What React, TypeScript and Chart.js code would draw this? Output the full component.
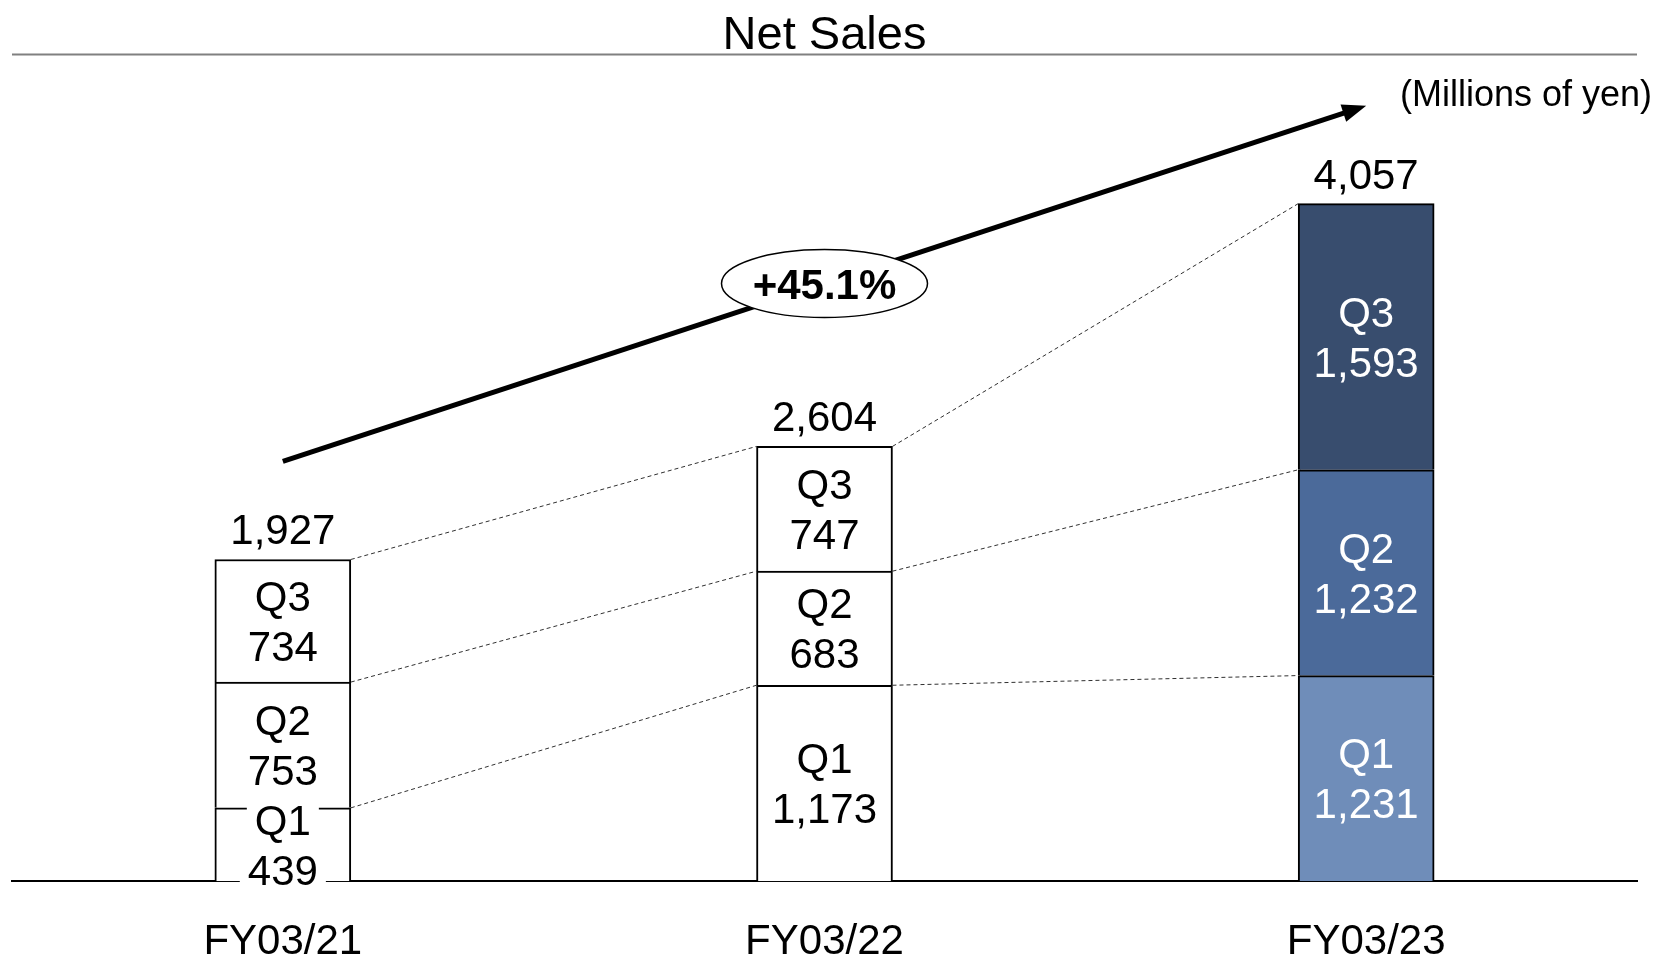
import React, { useEffect, useRef } from 'react';
import { Chart, registerables } from 'chart.js';

Chart.register(...registerables);

const categories = ['FY03/21', 'FY03/22', 'FY03/23'];
const quarterNames = ['Q1', 'Q2', 'Q3'];
const q1Values = [439, 1173, 1231];
const q2Values = [753, 683, 1232];
const q3Values = [734, 747, 1593];
const totals = [1927, 2604, 4057];
const q1Colors = ['#ffffff', '#ffffff', '#6F8DB9'];
const q2Colors = ['#ffffff', '#ffffff', '#4B6A9A'];
const q3Colors = ['#ffffff', '#ffffff', '#384D6E'];
const growthLabel = '+45.1%';
const chartTitle = 'Net Sales';
const unitLabel = '(Millions of yen)';

const FONT = '"Liberation Sans", Arial, Helvetica, sans-serif';

const overlayPlugin = {
  id: 'overlay',
  afterDatasetsDraw(chart: any) {
    const ctx: CanvasRenderingContext2D = chart.ctx;
    const area = chart.chartArea;
    const metas = [0, 1, 2].map((i) => chart.getDatasetMeta(i));
    const datasets = chart.data.datasets;
    ctx.save();

    // dashed connectors between segment tops
    ctx.setLineDash([4, 3]);
    ctx.lineWidth = 1;
    ctx.strokeStyle = '#303030';
    for (let s = 0; s < metas.length; s++) {
      const els = metas[s].data;
      for (let i = 0; i < els.length - 1; i++) {
        const a = els[i];
        const b = els[i + 1];
        ctx.beginPath();
        ctx.moveTo(a.x + a.width / 2, a.y);
        ctx.lineTo(b.x - b.width / 2, b.y);
        ctx.stroke();
      }
    }
    ctx.setLineDash([]);

    // segment labels
    ctx.font = `42px ${FONT}`;
    ctx.textAlign = 'center';
    ctx.textBaseline = 'alphabetic';
    for (let s = 0; s < metas.length; s++) {
      const els = metas[s].data;
      for (let i = 0; i < els.length; i++) {
        const el = els[i];
        const cy = (el.y + el.base) / 2;
        const fill = (datasets[s].backgroundColor as string[])[i];
        const isWhite = fill.toLowerCase() === '#ffffff';
        const lines = [quarterNames[s], (datasets[s].data[i] as number).toLocaleString('en-US')];
        const ys = [cy - 25, cy + 25];
        lines.forEach((t, k) => {
          if (isWhite) {
            const w = ctx.measureText(t).width + 16;
            ctx.fillStyle = '#ffffff';
            ctx.fillRect(el.x - w / 2, ys[k] - 21, w, 42);
          }
          ctx.fillStyle = isWhite ? '#000000' : '#ffffff';
          ctx.fillText(t, el.x, ys[k] + 15);
        });
      }
    }

    // totals above bars
    const topEls = metas[2].data;
    ctx.fillStyle = '#000000';
    topEls.forEach((el: any, i: number) => {
      ctx.fillText(totals[i].toLocaleString('en-US'), el.x, el.y - 15);
    });

    // growth arrow
    const first = topEls[0];
    const last = topEls[topEls.length - 1];
    const x0 = first.x;
    const y0 = first.y - 98;
    const x1 = last.x;
    const y1 = last.y - 98;
    const ang = Math.atan2(y1 - y0, x1 - x0);
    const headLen = 24;
    const headHalf = 9;
    const bx = x1 - headLen * Math.cos(ang);
    const by = y1 - headLen * Math.sin(ang);
    ctx.strokeStyle = '#000000';
    ctx.lineWidth = 5;
    ctx.beginPath();
    ctx.moveTo(x0, y0);
    ctx.lineTo(bx + 2 * Math.cos(ang), by + 2 * Math.sin(ang));
    ctx.stroke();
    ctx.beginPath();
    ctx.moveTo(x1, y1);
    ctx.lineTo(bx + headHalf * Math.sin(ang), by - headHalf * Math.cos(ang));
    ctx.lineTo(bx - headHalf * Math.sin(ang), by + headHalf * Math.cos(ang));
    ctx.closePath();
    ctx.fillStyle = '#000000';
    ctx.fill();

    // ellipse with growth label
    const mx = (x0 + x1) / 2;
    const my = (y0 + y1) / 2;
    ctx.beginPath();
    ctx.ellipse(mx, my, 103, 34, 0, 0, Math.PI * 2);
    ctx.fillStyle = '#ffffff';
    ctx.fill();
    ctx.lineWidth = 1.5;
    ctx.strokeStyle = '#000000';
    ctx.stroke();
    ctx.font = `bold 42px ${FONT}`;
    ctx.fillStyle = '#000000';
    ctx.fillText(growthLabel, mx, my + 15);

    // title and rule
    const cx = (area.left + area.right) / 2;
    ctx.font = `47px ${FONT}`;
    ctx.fillText(chartTitle, cx, 49);
    ctx.strokeStyle = '#808080';
    ctx.lineWidth = 2;
    ctx.beginPath();
    ctx.moveTo(area.left, 54.5);
    ctx.lineTo(area.right, 54.5);
    ctx.stroke();

    // unit
    ctx.font = `36px ${FONT}`;
    ctx.textAlign = 'right';
    ctx.fillStyle = '#000000';
    ctx.fillText(unitLabel, 1652, 106);

    ctx.restore();
  },
};

export default function App() {
  const ref = useRef<HTMLCanvasElement>(null);
  useEffect(() => {
    document.body.style.margin = '0';
    document.body.style.overflow = 'hidden';
    const canvas = ref.current!;
    const chart = new Chart(canvas, {
      type: 'bar',
      data: {
        labels: categories,
        datasets: [
          { label: 'Q1', data: q1Values, backgroundColor: q1Colors },
          { label: 'Q2', data: q2Values, backgroundColor: q2Colors },
          { label: 'Q3', data: q3Values, backgroundColor: q3Colors },
        ],
      },
      options: {
        responsive: false,
        animation: false,
        devicePixelRatio: 1,
        layout: { padding: { left: 12, right: 22, top: 46, bottom: -46 } },
        datasets: {
          bar: {
            barThickness: 136,
            borderColor: '#000000',
            borderWidth: 2,
            borderSkipped: 'start',
          },
        },
        plugins: {
          legend: { display: false },
          tooltip: { enabled: false },
          title: { display: false },
        },
        scales: {
          x: {
            stacked: true,
            grid: { display: false, drawTicks: false },
            border: { display: true, color: '#000000', width: 2 },
            ticks: {
              color: '#000000',
              font: { family: FONT, size: 42, lineHeight: 0.9 },
              padding: 42,
              maxRotation: 0,
            },
          },
          y: {
            stacked: true,
            display: false,
            min: 0,
            max: 5000,
          },
        },
      },
      plugins: [overlayPlugin],
    } as any);
    return () => chart.destroy();
  }, []);
  return (
    <div style={{ width: 1659, height: 957 }}>
      <canvas ref={ref} width={1659} height={957} style={{ display: 'block' }} />
    </div>
  );
}
